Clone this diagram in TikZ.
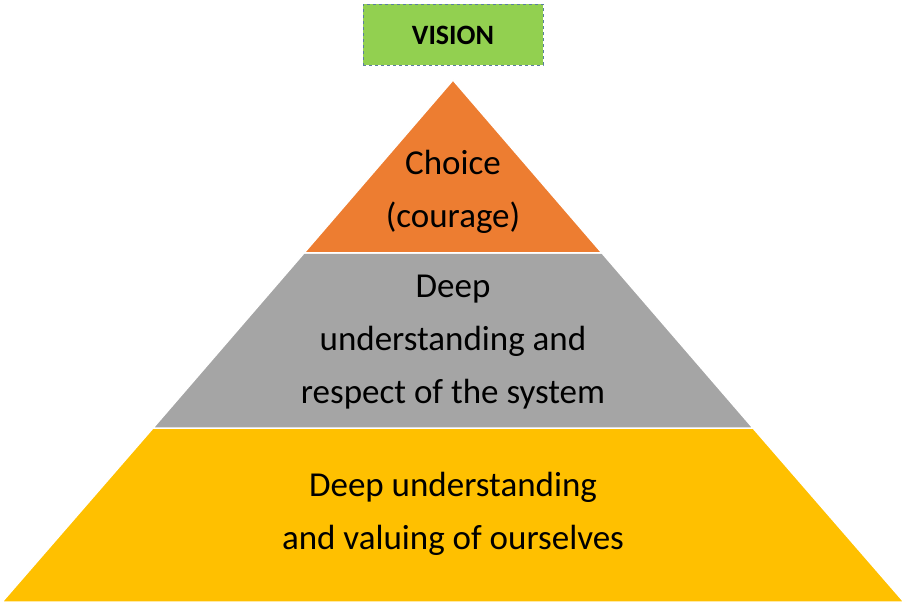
\documentclass[tikz,border=0pt]{standalone}
\usepackage{fontspec}
\setmainfont{Carlito}
\begin{document}
\begin{tikzpicture}[x=1pt,y=-1pt,
  layer/.style={draw=white,line width=1.5pt},
  lbl/.style={align=center,font=\fontsize{35}{53}\selectfont}]
\useasboundingbox (0,0) rectangle (906,604);
\fill[white] (0,0) rectangle (906,604);
\definecolor{orng}{HTML}{ED7D31}
\definecolor{gry}{HTML}{A5A5A5}
\definecolor{ylw}{HTML}{FFC000}
\definecolor{grn}{HTML}{92D050}
\definecolor{bdr}{HTML}{5B7F9F}
\coordinate (apex) at (453,80);
\path[layer,fill=ylw] (153,428) -- (753,428) -- (904,602) -- (2,602) -- cycle;
\path[layer,fill=gry] (304,253) -- (602,253) -- (753,428) -- (153,428) -- cycle;
\path[layer,fill=orng] (apex) -- (602,253) -- (304,253) -- cycle;
\node[lbl] (top) at (453,192) {Choice\\(courage)};
\node[lbl] (mid) at (453,342) {Deep\\understanding and\\respect of the system};
\node[lbl] (bot) at (453,514) {Deep understanding\\and valuing of ourselves};
\node[draw=bdr,dashed,fill=grn,minimum width=180pt,minimum height=61pt,
  font=\fontsize{28}{34}\selectfont\bfseries] (vision) at (453,35) {VISION};
\end{tikzpicture}
\end{document}
